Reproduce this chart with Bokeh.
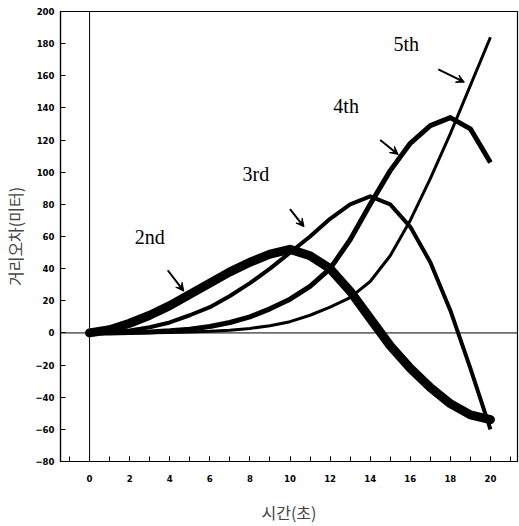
from bokeh.plotting import figure
from bokeh.models import Span, Label, Arrow, VeeHead, FixedTicker, Range1d
from bokeh.embed import file_html
from bokeh.resources import INLINE

# time (s)
t = [0, 1, 2, 3, 4, 5, 6, 7, 8, 9, 10, 11, 12, 13, 14, 15, 16, 17, 18, 19, 20]
# distance error (m) by fit order
err_2nd = [0, 2, 6, 11, 17, 24, 31, 38, 44, 49, 52, 48, 40, 26, 9, -8, -22, -34, -44, -51, -54]
err_3rd = [0, 0.3, 1.5, 3.5, 6.5, 11, 16, 23, 31, 40, 50, 60, 71, 80, 85, 80, 66, 44, 14, -22, -60]
err_4th = [0, 0, 0.2, 0.6, 1.3, 2.3, 4, 6.5, 10, 15, 21, 29, 40, 58, 80, 101, 118, 129, 134, 127, 106]
err_5th = [0, 0, 0, 0.1, 0.3, 0.6, 1, 1.7, 2.8, 4.5, 7, 11, 16, 22, 32, 48, 70, 96, 124, 154, 184]

series_labels = ["2nd", "3rd", "4th", "5th"]
x_ticks = [0, 2, 4, 6, 8, 10, 12, 14, 16, 18, 20]
y_ticks = [-80, -60, -40, -20, 0, 20, 40, 60, 80, 100, 120, 140, 160, 180, 200]

# annotation placement (data coords)
label_pos = [(3.0, 60), (8.3, 99), (12.8, 141), (15.8, 180)]
arrow_pos = [((3.9, 39), (4.7, 26)), ((10.0, 77), (10.7, 66)),
             ((14.5, 120), (15.4, 111)), ((17.4, 164), (18.7, 156))]

p = figure(width=519, height=526, output_backend="svg", toolbar_location=None,
           x_range=Range1d(-1.45, 21.35), y_range=Range1d(-80, 200),
           min_border_left=60, min_border_right=2, min_border_top=11, min_border_bottom=61)

p.xgrid.visible = False
p.ygrid.visible = False
p.outline_line_color = "black"
p.outline_line_width = 1.2
p.background_fill_color = "white"
p.border_fill_color = "white"

tick_font = "'Liberation Sans Narrow', 'DejaVu Sans Condensed', 'Liberation Sans'"
for ax in (p.xaxis[0], p.yaxis[0]):
    ax.major_label_text_font = tick_font
    ax.major_label_text_font_style = "bold"
    ax.major_label_text_font_size = "9.5px"
    ax.major_label_text_color = "black"
    ax.axis_line_color = "black"
    ax.axis_line_width = 1.2
    ax.major_tick_in = 5
    ax.major_tick_out = 0
    ax.major_tick_line_color = "black"
    ax.axis_label_text_font = "Noto Sans CJK KR"
    ax.axis_label_text_font_style = "normal"
    ax.axis_label_text_color = "#444444"
    ax.axis_label_text_font_size = "16px"

p.xaxis[0].ticker = FixedTicker(ticks=x_ticks, minor_ticks=list(range(-1, 22)))
p.xaxis[0].minor_tick_in = 5
p.xaxis[0].minor_tick_out = 0
p.xaxis[0].minor_tick_line_color = "black"
p.xaxis[0].major_label_standoff = 13
p.xaxis[0].axis_label = "시간(초)"
p.xaxis[0].axis_label_standoff = 15

p.yaxis[0].ticker = FixedTicker(ticks=y_ticks)
p.yaxis[0].minor_tick_line_color = None
p.yaxis[0].major_label_standoff = 6
p.yaxis[0].axis_label = "거리오차(미터)"
p.yaxis[0].axis_label_standoff = 5

p.add_layout(Span(location=0, dimension="width", line_color="black", line_width=1))
p.add_layout(Span(location=0, dimension="height", line_color="black", line_width=1))

p.line(t, err_5th, line_color="black", line_width=3, line_join="round")
p.line(t, err_4th, line_color="black", line_width=5, line_join="round")
p.line(t, err_3rd, line_color="black", line_width=4, line_join="round")
p.line(t, err_2nd, line_color="black", line_width=9, line_join="round", line_cap="round")

for txt, (lx, ly) in zip(series_labels, label_pos):
    p.add_layout(Label(x=lx, y=ly, text=txt, text_font="Liberation Serif",
                       text_font_size="20px", text_color="black",
                       text_align="center", text_baseline="middle"))

for (s, e) in arrow_pos:
    p.add_layout(Arrow(x_start=s[0], y_start=s[1], x_end=e[0], y_end=e[1],
                       line_color="black", line_width=2,
                       end=VeeHead(size=8, fill_color="black", line_color="black")))

open("out.html", "w").write(file_html(p, INLINE))
